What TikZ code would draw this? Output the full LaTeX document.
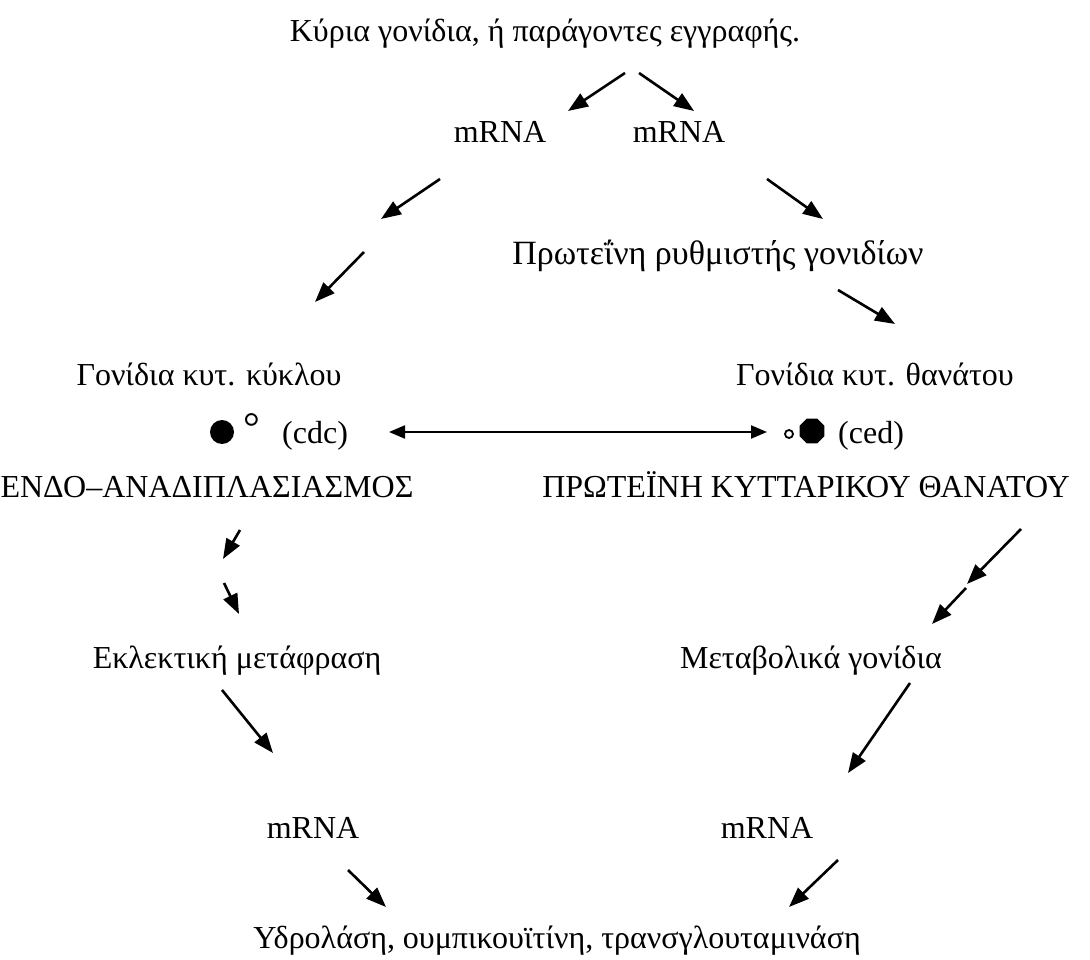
\documentclass[tikz,border=0pt]{standalone}
\usepackage{fontspec}
\setmainfont{Liberation Serif}
\usetikzlibrary{arrows.meta,shapes.geometric}

\begin{document}
\begin{tikzpicture}[x=1pt, y=-1pt,
			txt/.style={anchor=base, inner sep=0pt, font=\fontsize{32}{36}\selectfont},
			arrow/.style={-{Triangle[length=20pt, width=15pt]}, line width=2.6pt},
			dblarrow/.style={{Triangle[length=16pt, width=13pt]}-{Triangle[length=16pt, width=13pt]}, line width=2.2pt}]

			\useasboundingbox (0,0) rectangle (1090,960);

			% texts
			\node[txt] (K) at (545,42) {Κύρια γονίδια, ή παράγοντες εγγραφής.};
			\node[txt] (M1) at (500,143) {mRNA};
			\node[txt] (M2) at (679,143) {mRNA};
			\node[txt, font=\fontsize{34}{38}\selectfont] (PR) at (718,265) {Πρωτεΐνη ρυθμιστής γονιδίων};
			\node[txt] (GK) at (209,385) {Γονίδια κυτ. κύκλου};
			\node[txt] (GT) at (875,385) {Γονίδια κυτ. θανάτου};
			\node[circle, fill, inner sep=0pt, minimum size=24pt] (dot) at (222,432) {};
			\node[txt, font=\fontsize{42}{44}\selectfont] (deg) at (252,441) {°};
			\node[txt, anchor=base west] (cdc) at (282,443) {(cdc)};
			\node[circle, draw, line width=1.8pt, inner sep=0pt, minimum size=8pt] (ring) at (789,434) {};
			\node[regular polygon, regular polygon sides=8, fill, inner sep=0pt, minimum size=27pt] (oct) at (812,431) {};
			\node[txt, anchor=base west] (ced) at (838,443) {(ced)};
			\node[txt] (ENDO) at (207,497) {ΕΝΔΟ–ΑΝΑΔΙΠΛΑΣΙΑΣΜΟΣ};
			\node[txt] (PKT) at (806,497) {ΠΡΩΤΕΪΝΗ ΚΥΤΤΑΡΙΚΟΥ ΘΑΝΑΤΟΥ};
			\node[txt] (EM) at (237,668) {Εκλεκτική μετάφραση};
			\node[txt] (MG) at (811,668) {Μεταβολικά γονίδια};
			\node[txt] (M3) at (313,838) {mRNA};
			\node[txt] (M4) at (767,838) {mRNA};
			\node[txt] (YD) at (557,948) {Υδρολάση, ουμπικουϊτίνη, τρανσγλουταμινάση};

			% arrow ends
			\coordinate (a1) at (625,73);  \coordinate (b1) at (568,111);
			\coordinate (a2) at (639,73);  \coordinate (b2) at (694,111);
			\coordinate (a3) at (440,179); \coordinate (b3) at (381,219);
			\coordinate (a4) at (364,252); \coordinate (b4) at (315,302);
			\coordinate (a5) at (767,179); \coordinate (b5) at (823,219);
			\coordinate (a6) at (838,290); \coordinate (b6) at (895,324);
			\coordinate (a7) at (240,530); \coordinate (b7) at (223,559);
			\coordinate (a8) at (224,583); \coordinate (b8) at (239,614);
			\coordinate (a9) at (1021,529); \coordinate (b9) at (967,584);
			\coordinate (a10) at (966,588); \coordinate (b10) at (932,624);
			\coordinate (a11) at (222,690); \coordinate (b11) at (273,753);
			\coordinate (a12) at (910,683); \coordinate (b12) at (848,773);
			\coordinate (a13) at (348,870); \coordinate (b13) at (386,907);
			\coordinate (a14) at (838,860); \coordinate (b14) at (789,907);
			\coordinate (l) at (389,432); \coordinate (r) at (767,432);

			\foreach \i in {1,...,14}
				\draw[arrow] (a\i) -- (b\i);
			\draw[dblarrow] (l) -- (r);
		\end{tikzpicture}
\end{document}
